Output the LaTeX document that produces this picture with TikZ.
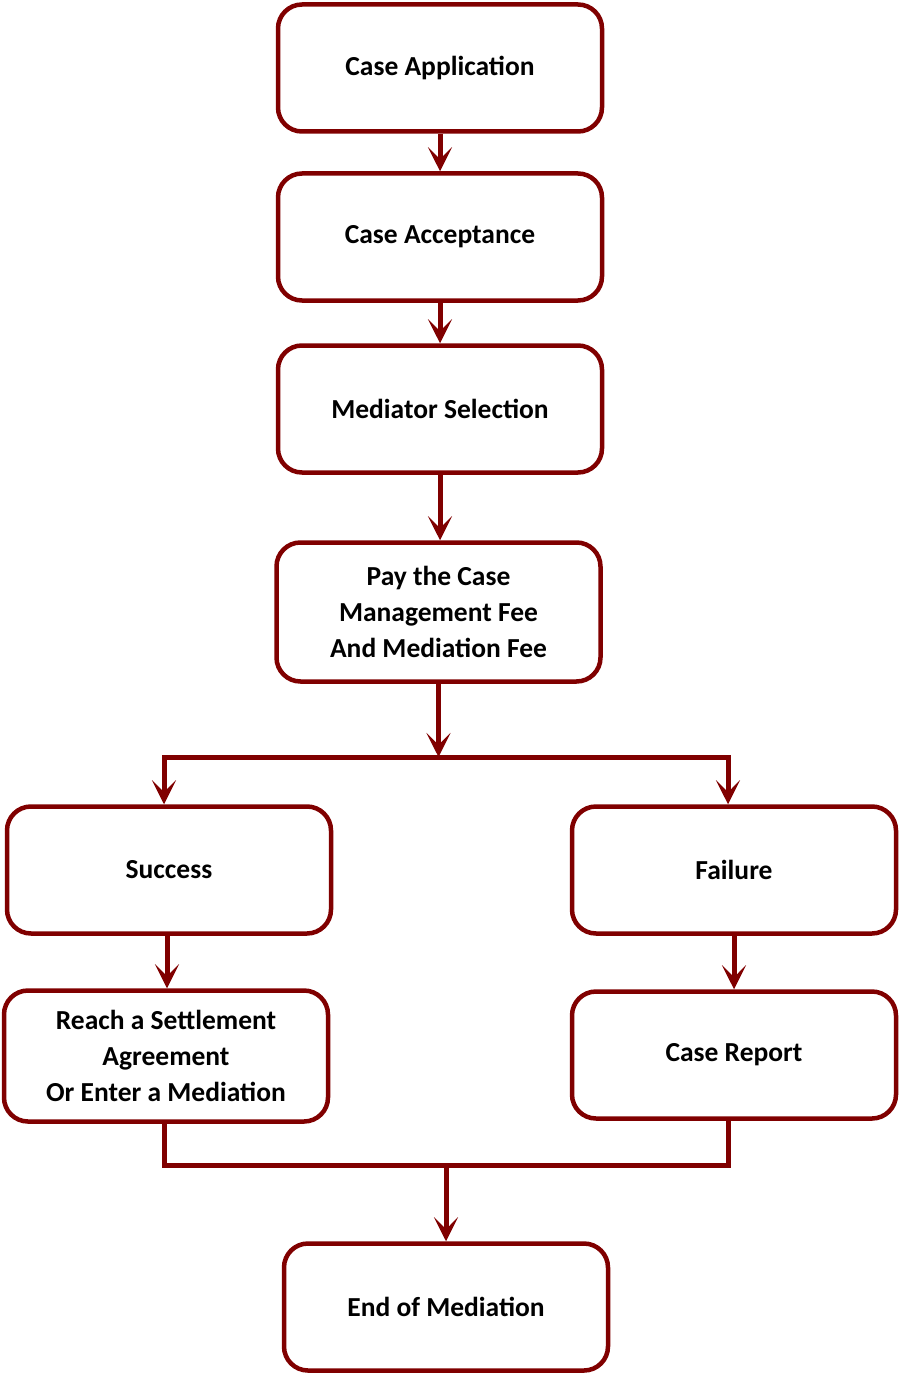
\documentclass[tikz,border=0pt]{standalone}
\usepackage{fontspec}
\setmainfont{Carlito}
\usetikzlibrary{arrows.meta}
\definecolor{dred}{HTML}{800000}
\begin{document}
\begin{tikzpicture}[x=1pt,y=-1pt,
  box/.style={draw=dred, line width=4.5pt, rounded corners=24pt, fill=white,
    minimum width=324pt, minimum height=127pt, align=center,
    font=\fontsize{27.5}{36}\selectfont\bfseries, inner sep=0pt},
  arr/.style={draw=dred, line width=5pt, -{Stealth[length=24pt,width=24pt,inset=12pt]}},
  ln/.style={draw=dred, line width=5pt}]
\useasboundingbox (0,0) rectangle (900,1375);
\node[box] (app) at (440,68) {Case Application};
\node[box] (acc) at (440,237) {Case Acceptance};
\node[box] (med) at (440,409) {Mediator Selection};
\node[box, minimum height=139pt] (pay) at (438.5,612) {Pay the Case\\Management Fee\\And Mediation Fee};
\node[box] (suc) at (169,870) {Success};
\node[box] (fail) at (734,870) {Failure};
\node[box, minimum height=131pt] (reach) at (166,1056) {Reach a Settlement\\Agreement\\Or Enter a Mediation};
\node[box] (rep) at (734,1055) {Case Report};
\node[box] (end) at (446,1307) {End of Mediation};
\coordinate (split) at (438.5,757);
\coordinate (bl) at (164,757);
\coordinate (br) at (728,757);
\coordinate (jl) at (164,1165);
\coordinate (jr) at (728,1165);
\coordinate (join) at (446,1165);
\draw[arr] (app) -- (acc);
\draw[arr] (acc) -- (med);
\draw[arr] (med) -- (med |- pay.north);
\draw[arr] (pay) -- (split);
\draw[ln, line cap=rect] (bl) -- (br);
\draw[arr] (bl) -- (bl |- suc.north);
\draw[arr] (br) -- (br |- fail.north);
\draw[arr] ([xshift=-2pt]suc.south) -- ([xshift=1pt]reach.north);
\draw[arr] (fail) -- (rep);
\draw[ln] (jl |- reach.south) -- (jl) -- (jr) -- (jr |- rep.south);
\draw[arr] (join) -- (end);
\end{tikzpicture}
\end{document}
